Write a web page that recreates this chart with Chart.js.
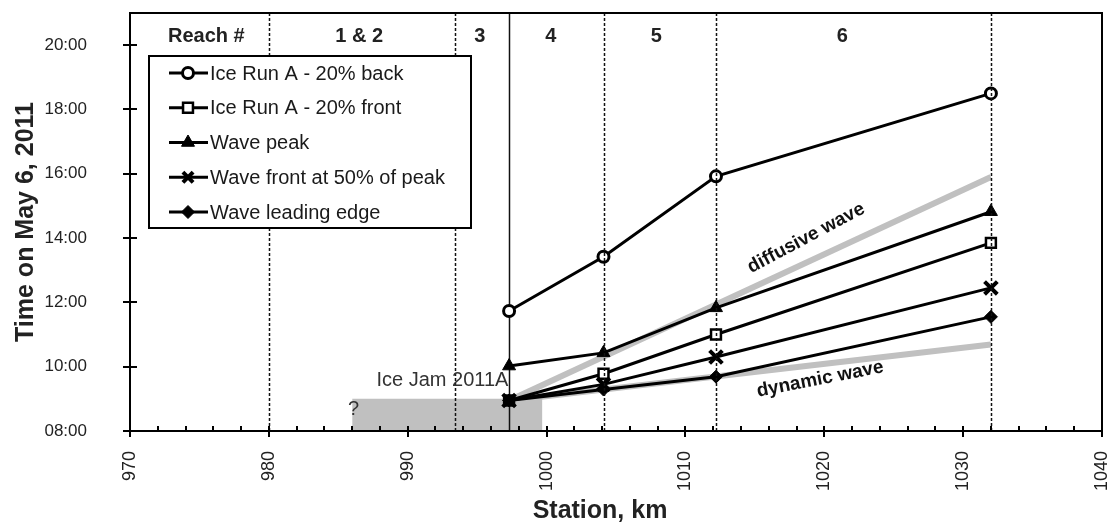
<!DOCTYPE html>
<html>
<head>
<meta charset="utf-8">
<title>Ice run and wave timing, May 6, 2011</title>
<script src="https://cdn.jsdelivr.net/npm/chart.js@4.4.1/dist/chart.umd.min.js"></script>
<style>
  html, body { margin: 0; padding: 0; background: #ffffff; }
  #wrap { width: 1118px; height: 529px; position: relative; }
</style>
</head>
<body>
<div id="wrap"><canvas id="chart" width="1118" height="529"></canvas></div>
<script>
// Observation stations along the river (km)
const stations = [997.3, 1004.1, 1012.2, 1032.0];

// Arrival times on May 6, 2011 (decimal hours)
const iceRunBack      = [11.73, 13.42, 15.92, 18.50];
const iceRunFront     = [8.95, 9.78, 11.00, 13.85];
const wavePeak        = [10.02, 10.43, 11.83, 14.82];
const waveFront50     = [8.95, 9.45, 10.30, 12.45];
const waveLeadingEdge = [8.95, 9.29, 9.69, 11.55];

// Theoretical wave celerity lines
const celerityStations = [997.3, 1032.0];
const diffusiveWave    = [8.95, 15.90];
const dynamicWave      = [8.95, 10.69];

// Extent of ice jam 2011A (station range, top time)
const iceJamStations = [986.0, 999.7];
const iceJamTop      = [9.0, 9.0];

// Reach boundaries and names
const reachEdges  = [980.0, 993.4, 997.3, 1004.1, 1012.2, 1032.0];
const reachNames  = ['Reach #', '1 & 2', '3', '4', '5', '6'];
const solidEdge   = 997.3;

// Where each reach name is written along the top (km)
const reachNameAt = [975.5, 986.5, 995.2, 1000.3, 1007.9, 1021.3];

// Axis ticks
const xTickStep = 10, xMinorStep = 2, yTickStep = 2;

// Plot area box on the canvas
const AREA = { left: 130, top: 7, right: 1102, bottom: 431 };

const FONT = "'Liberation Sans', Arial, Helvetica, sans-serif";
Chart.defaults.font.family = FONT;
Chart.defaults.color = '#222';

const pts = (xs, ys) => xs.map((x, i) => ({ x: x, y: ys[i] }));
const hhmm = v => String(Math.round(v)).padStart(2, '0') + ':00';

const seriesStyle = {
  borderColor: '#000', borderWidth: 3, tension: 0, fill: false,
  pointBorderColor: '#000', pointHoverRadius: 0
};

const datasets = [
  Object.assign({ label: 'Ice Run A - 20% back', data: pts(stations, iceRunBack), order: 3,
    pointStyle: 'circle', pointRadius: 5.5, pointBorderWidth: 3, pointBackgroundColor: '#fff', inLegend: true }, seriesStyle),
  Object.assign({ label: 'Ice Run A - 20% front', data: pts(stations, iceRunFront), order: 4,
    pointStyle: 'rect', pointRadius: 7, pointBorderWidth: 2.5, pointBackgroundColor: '#fff', inLegend: true }, seriesStyle),
  Object.assign({ label: 'Wave peak', data: pts(stations, wavePeak), order: 2,
    pointStyle: 'triangle', pointRadius: 7.5, pointBorderWidth: 1, pointBackgroundColor: '#000', inLegend: true }, seriesStyle),
  Object.assign({ label: 'Wave front at 50% of peak', data: pts(stations, waveFront50), order: 0,
    pointStyle: 'crossRot', pointRadius: 9, pointBorderWidth: 4, pointBackgroundColor: '#000', inLegend: true }, seriesStyle),
  Object.assign({ label: 'Wave leading edge', data: pts(stations, waveLeadingEdge), order: 1,
    pointStyle: 'rectRot', pointRadius: 6.5, pointBorderWidth: 1, pointBackgroundColor: '#000', inLegend: true }, seriesStyle),
  { label: 'diffusive wave', data: pts(celerityStations, diffusiveWave), order: 8,
    borderColor: '#c0c0c0', borderWidth: 6, borderCapStyle: 'butt', pointRadius: 0, fill: false, tension: 0 },
  { label: 'dynamic wave', data: pts(celerityStations, dynamicWave), order: 8,
    borderColor: '#c0c0c0', borderWidth: 6, borderCapStyle: 'butt', pointRadius: 0, fill: false, tension: 0 },
  { label: 'Ice Jam 2011A', data: pts(iceJamStations, iceJamTop), order: 10, isIceJam: true,
    borderColor: 'rgba(0,0,0,0)', borderWidth: 0, backgroundColor: '#c0c0c0', fill: 'start', pointRadius: 0, tension: 0 }
];

// Text notes placed in data coordinates
const notes = [
  { text: 'diffusive wave', x: 1018.7, y: 14.0, angle: -28, font: 'bold 19px ' + FONT, color: '#111' },
  { text: 'dynamic wave',   x: 1019.7, y: 9.61, angle: -11, font: 'bold 19px ' + FONT, color: '#111' },
  { text: 'Ice Jam 2011A',  x: 992.5,  y: 9.58, angle: 0,   font: '20px ' + FONT,      color: '#333' },
  { text: '?',              x: 986.1,  y: 8.66, angle: 0,   font: '20px ' + FONT,      color: '#333' }
];

function drawMarker(ctx, ds, x, y, scale) {
  ctx.save();
  ctx.fillStyle = ds.pointBackgroundColor;
  ctx.strokeStyle = ds.pointBorderColor;
  ctx.lineWidth = ds.pointBorderWidth;
  Chart.helpers.drawPoint(ctx, {
    pointStyle: ds.pointStyle, radius: ds.pointRadius * scale, rotation: 0, borderWidth: ds.pointBorderWidth
  }, x, y);
  ctx.restore();
}

function reachLine(ctx, chart, station, dashed) {
  const xs = chart.scales.x, a = chart.chartArea;
  const px = Math.round(xs.getPixelForValue(station)) + 0.5;
  ctx.save();
  ctx.strokeStyle = '#111';
  ctx.lineWidth = 1.5;
  ctx.setLineDash(dashed ? [3, 2] : []);
  ctx.beginPath();
  ctx.moveTo(px, a.top);
  ctx.lineTo(px, a.bottom);
  ctx.stroke();
  ctx.restore();
}

function noPadding(s) {
  s.paddingTop = 0; s.paddingBottom = 0; s.paddingLeft = 0; s.paddingRight = 0;
}

const decor = {
  id: 'decor',
  afterDatasetDraw(chart, args) {
    // solid boundary sits above the ice jam but under the observations
    if (chart.data.datasets[args.index].isIceJam) {
      reachLine(chart.ctx, chart, solidEdge, false);
    }
  },
  afterDatasetsDraw(chart) {
    const ctx = chart.ctx, a = chart.chartArea, xs = chart.scales.x, ys = chart.scales.y;

    // dashed reach boundaries
    reachEdges.forEach(e => { if (e !== solidEdge) reachLine(ctx, chart, e, true); });

    // reach names across the top
    ctx.save();
    ctx.font = 'bold 20px ' + FONT;
    ctx.fillStyle = '#222';
    ctx.textAlign = 'center';
    ctx.textBaseline = 'middle';
    reachNames.forEach((n, i) => {
      ctx.fillText(n, xs.getPixelForValue(reachNameAt[i]), a.top + 23);
    });
    ctx.restore();

    // notes
    notes.forEach(n => {
      ctx.save();
      ctx.translate(xs.getPixelForValue(n.x), ys.getPixelForValue(n.y));
      ctx.rotate(n.angle * Math.PI / 180);
      ctx.font = n.font;
      ctx.fillStyle = n.color;
      ctx.textAlign = 'center';
      ctx.textBaseline = 'middle';
      ctx.fillText(n.text, 0, 0);
      ctx.restore();
    });

    // plot frame
    ctx.save();
    ctx.strokeStyle = '#000';
    ctx.lineWidth = 2;
    ctx.strokeRect(a.left, a.top, a.right - a.left, a.bottom - a.top);

    // y ticks cross the left axis
    ctx.beginPath();
    for (let v = ys.min; v <= 20; v += yTickStep) {
      const py = Math.round(ys.getPixelForValue(v));
      ctx.moveTo(a.left - 7, py);
      ctx.lineTo(a.left + 7, py);
    }
    // x major ticks cross the bottom axis, minor ones point inward
    for (let v = xs.min; v <= xs.max + 1e-6; v += xMinorStep) {
      const px = Math.round(xs.getPixelForValue(v));
      const k = (v - xs.min) / xTickStep;
      const major = Math.abs(k - Math.round(k)) < 1e-6;
      ctx.moveTo(px, a.bottom - 5);
      ctx.lineTo(px, a.bottom + (major ? 6 : 0));
    }
    ctx.stroke();
    ctx.restore();

    // legend box
    const lx = 149, ly = 56, lw = 322, lh = 172;
    ctx.save();
    ctx.fillStyle = '#fff';
    ctx.fillRect(lx, ly, lw, lh);
    ctx.strokeStyle = '#000';
    ctx.lineWidth = 2;
    ctx.strokeRect(lx, ly, lw, lh);
    ctx.font = '20px ' + FONT;
    ctx.textBaseline = 'middle';
    ctx.textAlign = 'left';
    chart.data.datasets.filter(d => d.inLegend).forEach((d, i) => {
      const y = ly + 17 + i * 34.75;
      ctx.strokeStyle = '#000';
      ctx.lineWidth = 3;
      ctx.beginPath();
      ctx.moveTo(lx + 20, y);
      ctx.lineTo(lx + 59, y);
      ctx.stroke();
      drawMarker(ctx, d, lx + 39, y, d.pointStyle === 'crossRot' ? 0.8 : 1);
      ctx.fillStyle = '#1a1a1a';
      ctx.fillText(d.label, lx + 61, y + 1);
    });
    ctx.restore();

    // axis titles
    ctx.save();
    ctx.font = 'bold 25px ' + FONT;
    ctx.fillStyle = '#222';
    ctx.textAlign = 'center';
    ctx.textBaseline = 'alphabetic';
    ctx.fillText('Station, km', 600, 518);
    ctx.translate(33, (a.top + a.bottom) / 2);
    ctx.rotate(-Math.PI / 2);
    ctx.fillText('Time on May 6, 2011', 0, 0);
    ctx.restore();
  }
};

const chart = new Chart(document.getElementById('chart'), {
  type: 'line',
  data: { datasets: datasets },
  options: {
    responsive: false,
    animation: false,
    events: [],
    layout: { padding: { top: AREA.top, right: 1118 - AREA.right, left: 0, bottom: 0 } },
    plugins: { legend: { display: false }, tooltip: { enabled: false } },
    scales: {
      x: {
        type: 'linear', min: 970, max: 1040,
        grid: { display: false }, border: { display: false },
        ticks: { stepSize: xTickStep, minRotation: 90, maxRotation: 90, padding: 12,
                 font: { size: 18 }, color: '#222', callback: v => String(v) },
        afterFit: s => { s.height = 529 - AREA.bottom; noPadding(s); }
      },
      y: {
        type: 'linear', min: 8, max: 21,
        grid: { display: false }, border: { display: false },
        ticks: { stepSize: yTickStep, padding: 35, font: { size: 17 }, color: '#222',
                 callback: v => hhmm(v) },
        afterBuildTicks: s => { s.ticks = s.ticks.filter(t => t.value <= 20); },
        afterFit: s => { s.width = AREA.left; noPadding(s); }
      }
    }
  },
  plugins: [decor]
});

// pin the plot area to its intended box if the layout drifted
(function pinArea() {
  const a = chart.chartArea, p = chart.options.layout.padding;
  const dTop = a.top - AREA.top, dRight = AREA.right - a.right;
  if (Math.abs(dTop) > 0.5 || Math.abs(dRight) > 0.5) {
    p.top = p.top - dTop;
    p.right = p.right - dRight;
    chart.update('none');
  }
})();
</script>
</body>
</html>
